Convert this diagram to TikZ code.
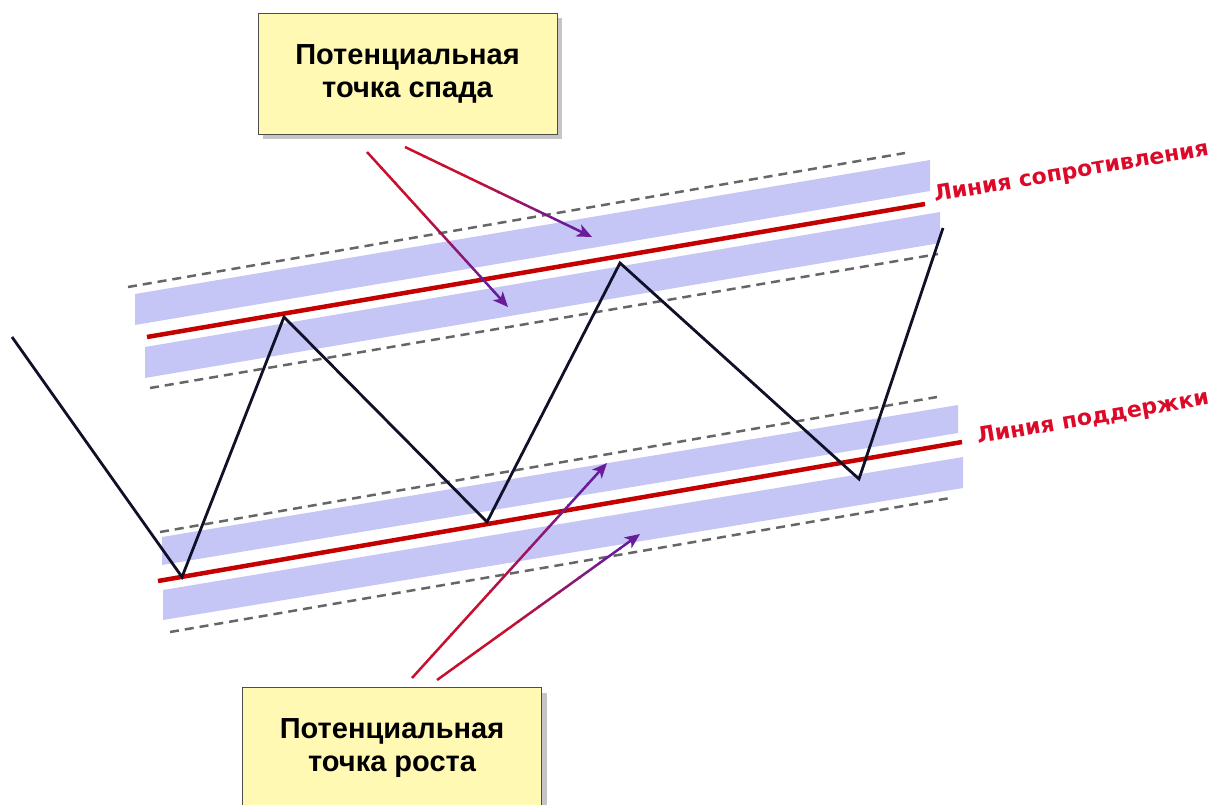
\documentclass[tikz,border=0pt]{standalone}
\usepackage{fontspec}
\setmainfont{Liberation Sans}
\newfontfamily\tagfont{DejaVu Sans}
\usetikzlibrary{arrows.meta, calc, shadows}
\definecolor{Band}   {HTML}{C6C6F6}
\definecolor{LineRed}{HTML}{C40000}
\definecolor{TagRed} {HTML}{DC0A28}
\definecolor{Note}   {HTML}{FFF9B4}
\definecolor{Zig}    {HTML}{101028}
\definecolor{ArrRed} {HTML}{C8102E}
\definecolor{ArrPur} {HTML}{6A1B9A}
\tikzset{
  note/.style={draw=black!70, fill=Note, align=center,
               font=\fontsize{29}{33}\selectfont\bfseries,
               minimum width=299pt, minimum height=121pt,
               drop shadow={shadow xshift=5pt, shadow yshift=-5pt, fill=black!45, opacity=0.5}},
  band/.style={fill=Band, draw=none},
  guide/.style={draw=black!60, line width=2.5pt, dash pattern=on 9pt off 6pt},
  level/.style={draw=LineRed, line width=4.5pt},
  tag/.style={text=TagRed, font=\tagfont\bfseries\fontsize{22}{26}\selectfont,
              anchor=base west, inner sep=0pt, rotate=9.7},
  zig/.style={draw=Zig, line width=2.8pt, line join=miter},
  pointer/.style={line width=2.5pt}
}

\begin{document}
\begin{tikzpicture}[x=1pt, y=-1pt]
  \useasboundingbox (0,0) rectangle (1225,805);

  \fill[band] (135,294) -- (135,325) -- (930,191) -- (930,160) -- cycle;
  \fill[band] (145,347) -- (145,378) -- (940,243) -- (940,212) -- cycle;
  \draw[guide] (128,287) -- (905,153);
  \draw[guide] (150,388) -- (938,254);
  \draw[level] (147,337) -- (925,204);

  \fill[band] (162,537) -- (162,565) -- (958,433) -- (958,405) -- cycle;
  \fill[band] (163,590) -- (163,620) -- (963,488) -- (963,457) -- cycle;
  \draw[guide] (160,532) -- (937,397);
  \draw[guide] (170,632) -- (950,498);
  \draw[level] (158,581) -- (962,442);

  \node[tag] (resist) at (935,202) {Линия сопротивления};
  \node[tag] (support) at (978,444) {Линия поддержки};

  \draw[zig] (12,337) -- (182,577) -- (284,317) -- (487,522) -- (620,263)
             -- (859,479) -- (943,228);

  \node[note] (spad) at (407.5,73.5) {Потенциальная\\точка спада};
  \node[note] (rost) at (392,748) {Потенциальная\\точка роста};

  \coordinate (s1) at (367,152);  \coordinate (t1) at (508,307);
  \coordinate (s2) at (405,147);  \coordinate (t2) at (592,237);
  \coordinate (r1) at (412,678);  \coordinate (u1) at (607,463);
  \coordinate (r2) at (437,680);  \coordinate (u2) at (640,534);

  \foreach \a/\b in {s1/t1, s2/t2, r1/u1, r2/u2}{
    \foreach \k in {0,...,8}{
      \pgfmathsetmacro\pa{\k/10}
      \pgfmathsetmacro\pb{(\k+1)/10+0.005}
      \pgfmathtruncatemacro\mix{min(100,max(0,160-\k*20))}
      \draw[pointer, draw=ArrRed!\mix!ArrPur] ($(\a)!\pa!(\b)$) -- ($(\a)!\pb!(\b)$);
    }
    \draw[pointer, draw=ArrPur, -{Stealth[length=15pt, width=13pt, inset=4pt]}]
      ($(\a)!0.9!(\b)$) -- (\b);
  }
\end{tikzpicture}
\end{document}
